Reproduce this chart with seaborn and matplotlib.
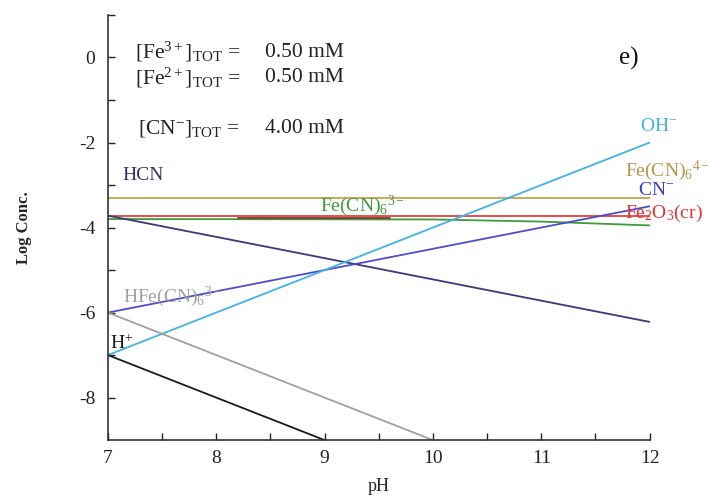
import matplotlib
matplotlib.use("Agg")
import matplotlib.pyplot as plt
import seaborn as sns
import numpy as np

# ---- data ----
ph_full = [7, 12]
oh_vals = [-7.0, -2.0]
hcn_vals = [-3.72, -6.22]
cn_vals = [-6.0, -3.5]
fecn6_4_vals = [-3.30, -3.30]
fe2o3_vals = [-3.74, -3.74]
ph_fecn6_3 = [7, 10, 11, 12]
fecn6_3_vals = [-3.80, -3.81, -3.86, -3.95]
ph_h = [7, 9]
h_vals = [-7.0, -9.0]
ph_hfecn = [7, 10]
hfecn_vals = [-6.0, -9.0]
ph_dark = [8.2, 9.6]
dark_vals = [-3.77, -3.77]

x_ticks = [7, 8, 9, 10, 11, 12]
y_ticks = [-8, -6, -4, -2, 0]

sns.set_theme(style="white")
plt.rcParams['font.family'] = ['Liberation Serif', 'DejaVu Serif']
plt.rcParams['mathtext.fontset'] = 'custom'
plt.rcParams['mathtext.rm'] = 'Liberation Serif'
plt.rcParams['mathtext.it'] = 'Liberation Serif:italic'
plt.rcParams['axes.unicode_minus'] = False

fig = plt.figure(figsize=(7.1, 4.99), dpi=100)
ax = fig.add_axes([0.152, 0.118, 0.763, 0.852])

lw = 1.3
series = [
    (ph_full, fecn6_4_vals, "#c9a24a"),
    (ph_full, fe2o3_vals, "#e8403a"),
    (ph_fecn6_3, fecn6_3_vals, "#3d9a3d"),
    (ph_dark, dark_vals, "#7a3a30"),
    (ph_full, hcn_vals, "#3a3a78"),
    (ph_full, cn_vals, "#4d4dcc"),
    (ph_full, oh_vals, "#40b4e4"),
    (ph_hfecn, hfecn_vals, "#a0a0a0"),
    (ph_h, h_vals, "#1a1a1a"),
]
for xs, ys, c in series:
    sns.lineplot(x=xs, y=ys, color=c, linewidth=lw, ax=ax, clip_on=True)

ax.set_xlim(7, 12)
ax.set_ylim(-9, 1)
ax.set_xticks(x_ticks)
ax.set_yticks(y_ticks)
ax.set_xticks(np.arange(7.5, 12, 1.0), minor=True)
ax.set_yticks([-7, -5, -3, -1, 1], minor=True)
ax.tick_params(axis='both', which='both', direction='in', length=5, width=1,
               labelsize=14, colors='#222222', left=True, bottom=True)
ax.tick_params(axis='x', pad=7)
ax.tick_params(axis='y', pad=9)
for s in ['top', 'right']:
    ax.spines[s].set_visible(False)
for s in ['left', 'bottom']:
    ax.spines[s].set_color('#333333')
    ax.spines[s].set_linewidth(1.2)

ax.set_xlabel("pH", fontsize=13, labelpad=8)
ax.set_ylabel("Log Conc.", fontsize=12, fontweight='bold', labelpad=34)

fs = 14
ax.text(11.91, -1.62, r"OH$^{-}$", color="#40b4e4", fontsize=fs, va='center', clip_on=False)
ax.text(11.77, -2.66, r"Fe(CN)$_6$$^{4-}$", color="#b8964a", fontsize=fs, va='center', clip_on=False)
ax.text(11.89, -3.13, r"CN$^{-}$", color="#3a3acc", fontsize=fs, va='center', clip_on=False)
ax.text(11.77, -3.67, r"Fe$_2$O$_3$(cr)", color="#e83030", fontsize=fs, va='center', clip_on=False)
ax.text(8.96, -3.48, r"Fe(CN)$_6$$^{3-}$", color="#3d9a3d", fontsize=fs, va='center')
ax.text(7.13, -2.78, "HCN", color="#303070", fontsize=fs, va='center')
ax.text(7.14, -5.62, r"HFe(CN)$_6$$^{3-}$", color="#a0a0a0", fontsize=fs, va='center')
ax.text(7.02, -6.72, r"H$^{+}$", color="#1a1a1a", fontsize=fs, va='center')
ax.text(11.72, -0.02, "e)", color="#111111", fontsize=18, va='center')

afs = 15.5
ax.text(7.25, 0.12, r"[Fe$^{3+}$]$_{\mathrm{TOT}}$ =", fontsize=afs, va='center', color='#222222')
ax.text(8.45, 0.12, "0.50 mM", fontsize=afs, va='center', color='#222222')
ax.text(7.25, -0.47, r"[Fe$^{2+}$]$_{\mathrm{TOT}}$ =", fontsize=afs, va='center', color='#222222')
ax.text(8.45, -0.47, "0.50 mM", fontsize=afs, va='center', color='#222222')
ax.text(7.28, -1.67, r"[CN$^{-}$]$_{\mathrm{TOT}}$ =", fontsize=afs, va='center', color='#222222')
ax.text(8.45, -1.67, "4.00 mM", fontsize=afs, va='center', color='#222222')

fig.savefig("out.png", dpi=100)
